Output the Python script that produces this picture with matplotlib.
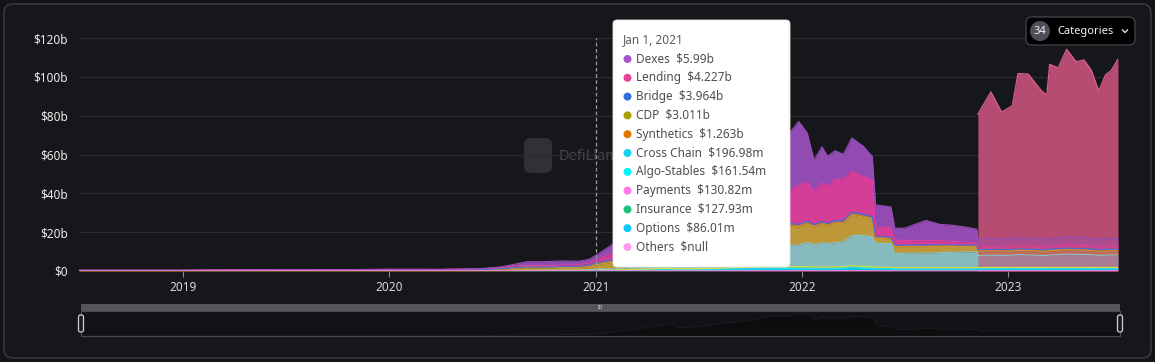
import numpy as np
import pandas as pd
import matplotlib
matplotlib.use("Agg")
import matplotlib.pyplot as plt
import matplotlib.dates as mdates
from matplotlib.patches import FancyBboxPatch, Rectangle, Circle

plt.rcParams['font.family'] = ['Noto Sans', 'DejaVu Sans']

# dates of the sampled points
dates = pd.to_datetime([
    '2018-07-01', '2018-10-01', '2019-01-01', '2019-04-01', '2019-07-01', '2019-10-01', '2020-01-01', '2020-04-01',
    '2020-06-15', '2020-07-15', '2020-08-10', '2020-09-01', '2020-10-01', '2020-11-01', '2020-12-01', '2020-12-20',
    '2021-01-01', '2021-02-01', '2021-03-01', '2021-04-01', '2021-05-10', '2021-05-25', '2021-07-01', '2021-08-15',
    '2021-10-01', '2021-11-10', '2021-12-01', '2021-12-26', '2022-01-10', '2022-01-22', '2022-02-05', '2022-02-15',
    '2022-02-28', '2022-03-15', '2022-03-30', '2022-04-20', '2022-05-05', '2022-05-11', '2022-06-07', '2022-06-14',
    '2022-07-01', '2022-08-08', '2022-09-01', '2022-09-25', '2022-10-20', '2022-11-06', '2022-11-08', '2022-12-01',
    '2022-12-20', '2023-01-08', '2023-01-18', '2023-02-05', '2023-02-28', '2023-03-10', '2023-03-15', '2023-03-30',
    '2023-04-14', '2023-05-01', '2023-05-15', '2023-05-28', '2023-06-10', '2023-06-22', '2023-07-02', '2023-07-14'])

# TVL per category, $b (stack order bottom -> top)
payments = [0, 0, 0, 0, 0, 0, 0, 0,
            0, .01, .02, .03, .04, .04, .05, .05,
            .13, .10, .12, .15, .20, .15, .15, .20,
            .25, .28, .28, .28, .27, .26, .26, .25,
            .26, .27, .30, .28, .27, .25, .25, .22,
            .22, .22, .22, .22, .22, .22, .30, .32,
            .32, .33, .34, .33, .33, .34, .35, .35,
            .36, .35, .35, .34, .34, .35, .35, .36]
insurance = [0, 0, 0, 0, 0, 0, 0, 0,
             .01, .02, .03, .04, .04, .05, .05, .06,
             .13, .08, .10, .14, .17, .14, .15, .20,
             .25, .27, .27, .27, .27, .25, .25, .24,
             .25, .26, .30, .27, .26, .24, .24, .21,
             .21, .21, .21, .21, .21, .21, .22, .22,
             .22, .22, .22, .22, .22, .22, .22, .22,
             .22, .22, .22, .22, .22, .22, .22, .22]
options = [0, 0, 0, 0, 0, 0, 0, 0,
           0, 0, .01, .02, .03, .03, .03, .04,
           .09, .06, .08, .11, .14, .12, .13, .18,
           .25, .26, .26, .26, .26, .25, .25, .24,
           .25, .26, .30, .27, .26, .24, .24, .20,
           .20, .20, .20, .20, .20, .20, .20, .21,
           .21, .21, .21, .21, .21, .21, .21, .21,
           .21, .21, .21, .21, .21, .21, .21, .21]
algo_stables = [0, 0, 0, 0, 0, 0, 0, 0,
                0, 0, .02, .03, .04, .04, .04, .05,
                .16, .08, .12, .18, .25, .20, .22, .30,
                .40, .42, .42, .42, .42, .40, .40, .38,
                .40, .50, .85, .50, .45, .35, .35, .30,
                .30, .30, .30, .30, .30, .30, .30, .30,
                .30, .30, .30, .30, .30, .30, .30, .30,
                .30, .30, .30, .30, .30, .30, .30, .30]
cross_chain = [0, 0, 0, 0, 0, 0, 0, 0,
               0, .01, .03, .03, .04, .04, .04, .05,
               .20, .10, .12, .16, .22, .19, .20, .27,
               .35, .37, .37, .37, .37, .35, .35, .34,
               .35, .40, .45, .40, .38, .34, .34, .30,
               .30, .30, .30, .30, .30, .30, .30, .30,
               .30, .30, .30, .30, .30, .30, .30, .30,
               .30, .30, .30, .30, .30, .30, .30, .30]
yield_ = [0, 0, 0, 0, 0, 0, 0, 0,
          .04, .06, .15, .15, .16, .17, .16, .15,
          .20, .15, .20, .30, .40, .30, .30, .40,
          .55, .60, .60, .60, .60, .55, .55, .55,
          .55, .55, .60, .55, .55, .50, .50, .45,
          .45, .45, .45, .45, .45, .45, .50, .50,
          .50, .50, .50, .50, .50, .50, .50, .50,
          .50, .50, .50, .50, .50, .50, .50, .50]
liquid_staking = [0, 0, 0, 0, 0, 0, 0, 0,
                  0, 0, 0, 0, 0, .02, .05, .10,
                  .15, .5, 1.0, 1.5, 3.0, 2.0, 2.5, 5.0,
                  8.0, 11.0, 11.0, 11.2, 12.5, 11.5, 12.5, 12.2,
                  12.5, 12.8, 15.5, 16.0, 15.5, 12.4, 12.2, 7.4,
                  7.5, 7.6, 7.8, 8.0, 8.2, 8.2, 6.2, 6.3,
                  6.2, 6.3, 6.5, 6.4, 6.2, 6.1, 6.4, 6.5,
                  6.8, 6.7, 6.6, 6.5, 6.2, 6.3, 6.4, 6.4]
cdp = [.3, .3, .3, .5, .6, .5, .6, .5,
       .6, .8, 1.2, 1.4, 1.3, 1.4, 1.5, 1.8,
       2.2, 3.5, 5.0, 7.0, 9.0, 6.5, 7.0, 9.0,
       10.0, 11.0, 10.0, 9.3, 9.5, 9.0, 9.5, 9.0,
       10.0, 9.5, 10.5, 9.5, 9.0, 2.6, 2.5, 3.5,
       3.4, 3.3, 3.3, 3.0, 2.8, 2.7, 2.2, 2.3,
       2.2, 2.2, 2.3, 2.3, 2.2, 2.1, 2.3, 2.3,
       2.4, 2.3, 2.3, 2.2, 2.1, 2.2, 2.2, 2.2]
synthetics = [0, 0, 0, 0, .05, .05, .1, .1,
              .15, .2, .3, .35, .3, .4, .4, .5,
              .6, .8, 1.0, 1.2, 1.4, 1.0, 1.0, 1.0,
              1.0, 1.0, .9, .8, .8, .7, .7, .7,
              .7, .7, .7, .6, .6, .4, .4, .35,
              .35, .35, .35, .35, .3, .3, .3, .3,
              .3, .3, .3, .3, .3, .3, .3, .3,
              .3, .3, .3, .3, .3, .3, .3, .3]
bridge = [0, 0, 0, 0, 0, 0, 0, 0,
          0, 0, 0, .05, .05, .1, .1, .2,
          .3, .4, .5, .6, .7, .5, .5, .6,
          .6, .6, .6, .6, .7, .6, .7, .6,
          .8, .7, .8, .8, .7, .4, .4, .4,
          .4, .4, .4, .4, .4, .4, .4, .4,
          .4, .4, .4, .4, .4, .4, .4, .4,
          .4, .4, .4, .4, .4, .4, .4, .4]
lending = [0, 0, .02, .05, .1, .1, .15, .2,
           .4, .6, .8, .8, .7, .8, .8, 1.1,
           1.6, 3.5, 6.0, 8.0, 11.0, 7.5, 9.0, 12.0,
           14.0, 16.0, 15.5, 20.1, 20.0, 17.0, 20.0, 19.0,
           21.0, 21.5, 21.0, 19.5, 19.0, 5.1, 5.0, 2.6,
           2.4, 2.2, 2.2, 1.8, 1.5, 1.4, 1.5, 1.6,
           1.5, 1.6, 1.7, 1.7, 1.6, 1.5, 1.7, 1.7,
           1.8, 1.7, 1.7, 1.6, 1.5, 1.6, 1.6, 1.6]
dexes = [0, 0, 0, .01, .02, .02, .03, .05,
         .1, .3, .95, 1.9, 2.1, 2.1, 1.8, 1.9,
         2.3, 4.7, 7.8, 10.7, 13.5, 9.4, 10.9, 15.9,
         19.4, 28.2, 27.8, 32.8, 25.3, 16.1, 18.5, 15.5,
         14.9, 12.6, 17.2, 15.3, 12.0, 11.2, 10.6, 6.1,
         6.3, 10.5, 8.3, 8.3, 7.6, 6.8, 3.8, 4.0,
         3.9, 4.0, 4.1, 4.0, 3.9, 3.8, 4.0, 4.0,
         4.1, 4.0, 4.0, 3.9, 3.8, 3.9, 3.9, 3.9]
cex = [0, 0, 0, 0, 0, 0, 0, 0,
       0, 0, 0, 0, 0, 0, 0, 0,
       0, 0, 0, 0, 0, 0, 0, 0,
       0, 0, 0, 0, 0, 0, 0, 0,
       0, 0, 0, 0, 0, 0, 0, 0,
       0, 0, 0, 0, 0, 0, 64.5, 75.5,
       65.5, 68.5, 84.5, 84.5, 76.5, 74.5, 89.5, 87.5,
       96.5, 90.5, 91.5, 86.5, 76.5, 84.5, 86.5, 92.5]

series = [payments, insurance, options, algo_stables, cross_chain, yield_,
          liquid_staking, cdp, synthetics, bridge, lending, dexes]
colors = ['#f07ad8', '#20c88a', '#18c0f0', '#00eaea', '#30d8f8', '#e0e030',
          '#8cc4c8', '#c8a03a', '#e08020', '#3a70e0', '#e040a0', '#9a4fbb']
cex_color = '#c05078'

# tooltip content
tip_date = 'Jan 1, 2021'
tip_names = ['Dexes', 'Lending', 'Bridge', 'CDP', 'Synthetics', 'Cross Chain',
             'Algo-Stables', 'Payments', 'Insurance', 'Options', 'Others']
tip_values = ['$5.99b', '$4.227b', '$3.964b', '$3.011b', '$1.263b', '$196.98m',
              '$161.54m', '$130.82m', '$127.93m', '$86.01m', '$null']
tip_colors = ['#a855d0', '#e8409a', '#2f6fe0', '#a8a000', '#e07800', '#1ad0f0',
              '#00f5f5', '#ff77e8', '#1bc47d', '#10c8f8', '#ff99ee']

W, H = 1155, 362
fig = plt.figure(figsize=(W / 100, H / 100), dpi=100, facecolor='#131418')

# background layer (pixel coords)
bg = fig.add_axes([0, 0, 1, 1], zorder=0)
bg.set_xlim(0, W); bg.set_ylim(H, 0); bg.axis('off')
bg.add_patch(FancyBboxPatch((4, 4), W - 8, H - 8, boxstyle='round,pad=0,rounding_size=9',
                            fc='#16171b', ec='#37383d', lw=1.2))
# watermark
bg.add_patch(FancyBboxPatch((524, 138), 28, 35, boxstyle='round,pad=0,rounding_size=7',
                            fc='#303135', ec='none'))
bg.text(559, 156, 'DefiLlama', color='#46474c', fontsize=10.5, fontweight='bold', va='center')

# main chart
ax = fig.add_axes([79 / W, 1 - 271 / H, (1118 - 79) / W, (271 - 38) / H], zorder=1)
ax.set_facecolor('none')
x = mdates.date2num(dates)
base = np.zeros(len(x))
for vals, c in zip(series, colors):
    top = base + np.array(vals)
    ax.fill_between(x, base, top, color=c, lw=0, alpha=0.95)
    ax.plot(x, top, color=c, lw=0.8)
    base = top
lower_total = base.copy()
cex_arr = np.array(cex)
has_cex = cex_arr > 0
# CEX area drawn over the whole height, translucent
ax.fill_between(x, 0, lower_total, where=has_cex, color=cex_color, alpha=0.6, lw=0)
ax.fill_between(x, lower_total, lower_total + cex_arr, where=has_cex, color=cex_color, alpha=0.95, lw=0)
ax.plot(x[has_cex], (lower_total + cex_arr)[has_cex], color='#d8608a', lw=0.9)
ax.plot(x, np.zeros(len(x)), color=colors[0], lw=1.2)

ax.axvline(mdates.date2num(pd.Timestamp('2021-01-01')), color='#9a9a9a', lw=0.9, ls=(0, (3, 2)))

ax.set_xlim(x[0], x[-1])
ax.set_ylim(0, 120)
ax.set_yticks(np.arange(0, 121, 20))
ax.set_yticklabels(['$0'] + ['$%db' % v for v in range(20, 121, 20)])
ax.grid(axis='y', color='#2a2b30', lw=0.8)
ax.set_axisbelow(True)
years = pd.to_datetime(['2019-01-01', '2020-01-01', '2021-01-01', '2022-01-01', '2023-01-01'])
ax.set_xticks(mdates.date2num(years))
ax.set_xticklabels([str(d.year) for d in years])
ax.tick_params(axis='y', length=0, pad=8, labelcolor='#ececec', labelsize=8.5)
ax.tick_params(axis='x', length=4, color='#8a8a8a', pad=3, labelcolor='#d8d8d8', labelsize=8.5)
for lab in ax.get_yticklabels():
    lab.set_fontweight('semibold')
for s in ax.spines.values():
    s.set_visible(False)

# brush mini chart
mini = fig.add_axes([81 / W, 1 - 336 / H, (1120 - 81) / W, (336 - 311) / H], zorder=1)
mini.set_facecolor('#111215')
mini.fill_between(x, 0, lower_total, color='#0c0d0f', lw=0)
mini.plot(x, lower_total, color='#1a1b1f', lw=0.8)
mini.set_xlim(x[0], x[-1]); mini.set_ylim(0, 85)
mini.set_xticks([]); mini.set_yticks([])
for s in mini.spines.values():
    s.set_color('#4a4a4f'); s.set_linewidth(0.8)

# foreground layer (pixel coords)
fg = fig.add_axes([0, 0, 1, 1], zorder=5)
fg.set_xlim(0, W); fg.set_ylim(H, 0); fg.axis('off')

fg.add_patch(Rectangle((81, 304), 1039, 7, fc='#55565b', ec='none'))
fg.text(600, 307.5, 'III', color='#dddddd', fontsize=3.5, ha='center', va='center')
for hx in (81, 1120):
    fg.add_patch(FancyBboxPatch((hx - 2.5, 315), 5, 17, boxstyle='round,pad=0,rounding_size=2',
                                fc='#1b1c1f', ec='#cfcfcf', lw=0.9))

# tooltip
fg.add_patch(FancyBboxPatch((613, 20), 177, 247, boxstyle='round,pad=0,rounding_size=4',
                            fc='#ffffff', ec='#e6e6e6', lw=0.6))
fg.text(623, 40, tip_date, color='#5c5c5c', fontsize=8.5, va='center')
for i, (n, v, c) in enumerate(zip(tip_names, tip_values, tip_colors)):
    yy = 59 + i * 18.8
    fg.add_patch(Circle((627.5, yy), 4, fc=c, ec='none'))
    fg.text(636, yy, n + '  ' + v, color='#4e4e4e', fontsize=8.5, va='center')

# categories button
fg.add_patch(FancyBboxPatch((1026, 17), 109, 28, boxstyle='round,pad=0,rounding_size=6',
                            fc='#000000', ec='#3f4046', lw=1))
fg.add_patch(Circle((1040, 31), 10, fc='#4c4d56', ec='none'))
fg.text(1040, 31.5, '34', color='#f0f0f0', fontsize=8, fontweight='bold', ha='center', va='center')
fg.text(1057, 31.5, 'Categories', color='#f4f4f4', fontsize=8, va='center')
fg.plot([1122.5, 1125, 1127.5], [30, 32.5, 30], color='#e0e0e0', lw=1)

fig.savefig('out.png', dpi=100, facecolor=fig.get_facecolor())
